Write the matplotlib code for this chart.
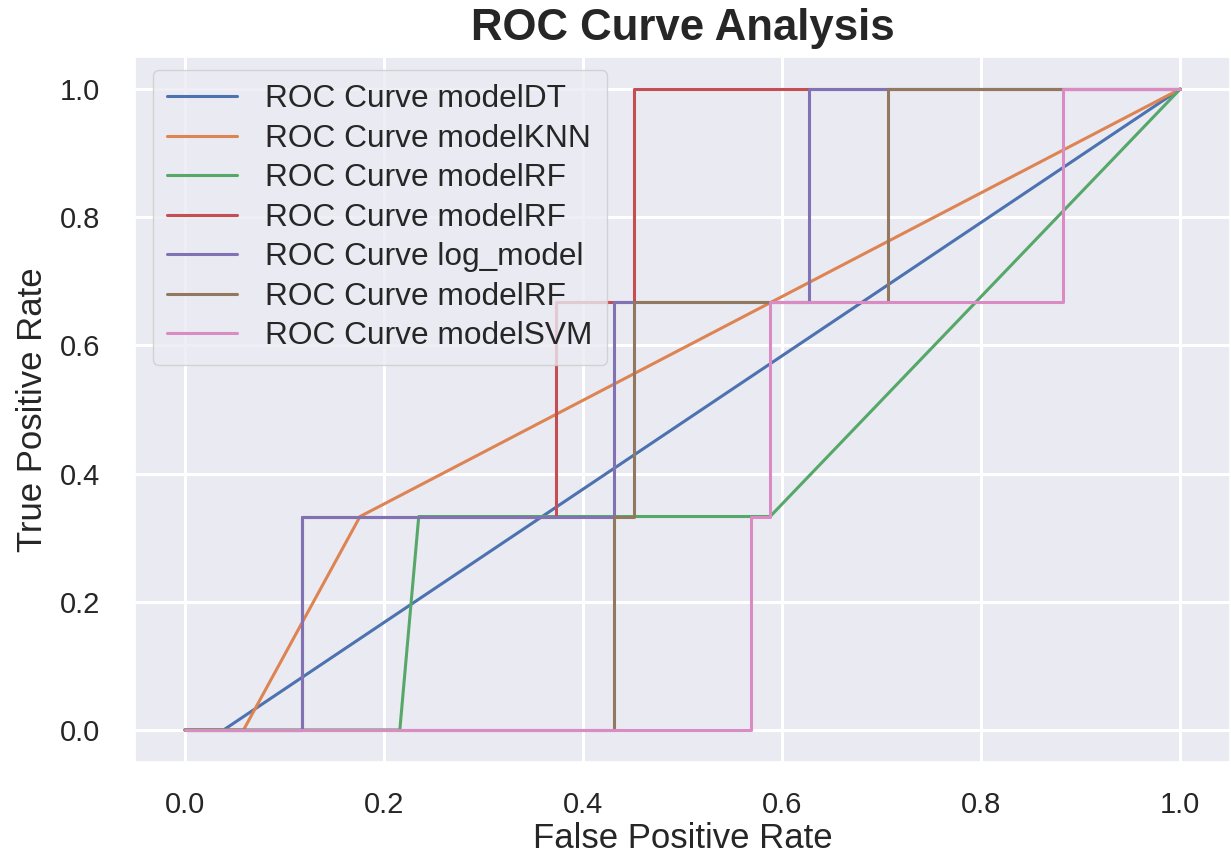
import matplotlib
matplotlib.use("Agg")
import matplotlib.pyplot as plt
import seaborn as sns

# ROC points (false positive rate, true positive rate) for each model
dt_fpr = [0.0, 0.039, 1.0]
dt_tpr = [0.0, 0.0, 1.0]

knn_fpr = [0.0, 0.059, 0.176, 1.0]
knn_tpr = [0.0, 0.0, 0.333, 1.0]

rf1_fpr = [0.0, 0.216, 0.235, 0.588, 1.0]
rf1_tpr = [0.0, 0.0, 0.333, 0.333, 1.0]

rf2_fpr = [0.0, 0.118, 0.118, 0.373, 0.373, 0.451, 0.451, 1.0]
rf2_tpr = [0.0, 0.0, 0.333, 0.333, 0.667, 0.667, 1.0, 1.0]

log_fpr = [0.0, 0.118, 0.118, 0.431, 0.431, 0.627, 0.627, 1.0]
log_tpr = [0.0, 0.0, 0.333, 0.333, 0.667, 0.667, 1.0, 1.0]

rf3_fpr = [0.0, 0.431, 0.431, 0.451, 0.451, 0.706, 0.706, 1.0]
rf3_tpr = [0.0, 0.0, 0.333, 0.333, 0.667, 0.667, 1.0, 1.0]

svm_fpr = [0.0, 0.569, 0.569, 0.588, 0.588, 0.882, 0.882, 1.0]
svm_tpr = [0.0, 0.0, 0.333, 0.333, 0.667, 0.667, 1.0, 1.0]

labels = ["ROC Curve modelDT", "ROC Curve modelKNN", "ROC Curve modelRF",
          "ROC Curve modelRF", "ROC Curve log_model", "ROC Curve modelRF",
          "ROC Curve modelSVM"]

sns.set_theme(style="darkgrid")
plt.rcParams["font.family"] = ["Liberation Sans", "DejaVu Sans"]

fig = plt.figure(figsize=(12.31, 8.58), dpi=100)
ax = fig.add_axes([0.1097, 0.1119, 0.8895, 0.8217])

curves = [(dt_fpr, dt_tpr), (knn_fpr, knn_tpr), (rf1_fpr, rf1_tpr),
          (rf2_fpr, rf2_tpr), (log_fpr, log_tpr), (rf3_fpr, rf3_tpr),
          (svm_fpr, svm_tpr)]
for (fpr, tpr), lab in zip(curves, labels):
    ax.plot(fpr, tpr, lw=2.2, label=lab)

ax.grid(True, color="white", lw=2.2)
ax.set_xticks([0.0, 0.2, 0.4, 0.6, 0.8, 1.0])
ax.set_yticks([0.0, 0.2, 0.4, 0.6, 0.8, 1.0])
ax.tick_params(axis="x", labelsize=21, pad=15, colors="#262626")
ax.tick_params(axis="y", labelsize=21, pad=19, colors="#262626")
ax.set_xlabel("False Positive Rate", fontsize=25, labelpad=2, color="#262626")
ax.set_ylabel("True Positive Rate", fontsize=25, labelpad=8, color="#262626")
ax.set_title("ROC Curve Analysis", fontsize=31.5, fontweight="bold", pad=12,
             color="#262626")

ax.legend(loc="upper left", bbox_to_anchor=(0.0164, 0.9816), borderaxespad=0,
          fontsize=22.8, handlelength=2.2, handletextpad=0.9,
          labelspacing=0.3, borderpad=0.45, framealpha=0.8)

fig.savefig("out.png", dpi=100)
